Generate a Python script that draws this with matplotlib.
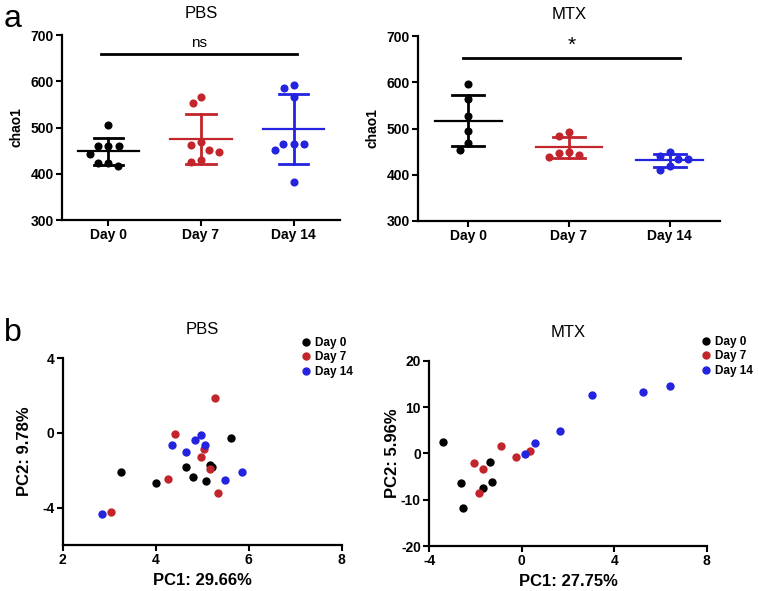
"""
chao1 alpha diversity (a) and PCA (b) for PBS and MTX groups
"""

import numpy as np
import matplotlib
matplotlib.use("Agg")
import matplotlib.pyplot as plt
from matplotlib.lines import Line2D

plt.rcParams['font.family'] = ['Liberation Sans', 'DejaVu Sans']
plt.rcParams['axes.unicode_minus'] = False

# ======================================================================
# DATA
# ======================================================================
days = ["Day 0", "Day 7", "Day 14"]

pbs_day0 = [506, 459, 459, 459, 443, 423, 423, 416]
pbs_day7 = [566, 552, 468, 462, 452, 448, 429, 425]
pbs_day14 = [592, 585, 565, 465, 465, 464, 451, 382]

mtx_day0 = [596, 563, 526, 495, 469, 454]
mtx_day7 = [493, 484, 450, 448, 443, 438]
mtx_day14 = [449, 441, 434, 433, 419, 410]

# PCA scores
pbs_pc1_day0 = [3.26, 4.01, 4.65, 4.80, 5.09, 5.16, 5.22, 5.62]
pbs_pc2_day0 = [-2.10, -2.70, -1.83, -2.35, -2.60, -1.74, -1.81, -0.30]
pbs_pc1_day7 = [5.27, 4.42, 5.04, 4.98, 5.17, 4.26, 5.33, 3.03]
pbs_pc2_day7 = [1.88, -0.04, -0.89, -1.30, -1.92, -2.49, -3.22, -4.23]
pbs_pc1_day14 = [4.35, 4.65, 4.85, 4.97, 5.06, 5.85, 5.48, 2.85]
pbs_pc2_day14 = [-0.66, -1.01, -0.41, -0.14, -0.66, -2.10, -2.51, -4.32]

mtx_pc1_day0 = [-3.39, -2.64, -2.53, -1.66, -1.37, -1.30]
mtx_pc2_day0 = [2.37, -6.33, -11.8, -7.41, -1.87, -6.19]
mtx_pc1_day7 = [-2.08, -1.66, -1.86, -0.91, -0.25, 0.36]
mtx_pc2_day7 = [-2.09, -3.45, -8.63, 1.58, -0.86, 0.58]
mtx_pc1_day14 = [0.14, 0.57, 1.66, 3.04, 5.25, 6.40]
mtx_pc2_day14 = [-0.22, 2.16, 4.75, 12.5, 13.2, 14.5]

colors = ["#000000", "#C2252B", "#2323E0"]
W, H = 758, 591


def style_axes(ax):
    for side in ["top", "right"]:
        ax.spines[side].set_visible(False)
    for side in ["left", "bottom"]:
        ax.spines[side].set_linewidth(1.6)
    ax.tick_params(direction="out", length=4, width=1.5, labelsize=10, pad=2)
    for lab in ax.get_xticklabels() + ax.get_yticklabels():
        lab.set_fontweight("bold")


def swarm_x(ax, xc, values, diam_px=10.5):
    # simple beeswarm in display space
    placed = []
    xs = []
    cands = sorted(np.arange(-60, 60.01, 0.5), key=abs)
    for v in values:
        px, py = ax.transData.transform((xc, v))
        for c in cands:
            if all((px + c - qx) ** 2 + (py - qy) ** 2 >= diam_px ** 2 for qx, qy in placed):
                break
        placed.append((px + c, py))
        xs.append(ax.transData.inverted().transform((px + c, py))[0])
    return xs


def dot_panel(ax, groups, title, sig, sig_size, sig_y, sig_x0, sig_x1):
    ax.set_xlim(-0.5, 2.5)
    ax.set_ylim(300, 700)
    ax.set_yticks([300, 400, 500, 600, 700])
    ax.set_xticks(range(len(days)))
    ax.set_xticklabels(days)
    style_axes(ax)
    for i, vals in enumerate(groups):
        vals = np.array(vals, dtype=float)
        m, sd = vals.mean(), vals.std(ddof=1)
        xs = swarm_x(ax, i, vals)
        ax.scatter(xs, vals, s=34, color=colors[i], zorder=3, linewidths=0)
        ax.plot([i - 0.33, i + 0.33], [m, m], color=colors[i], lw=1.6, zorder=2)
        ax.plot([i, i], [m - sd, m + sd], color=colors[i], lw=2.0, zorder=2)
        for e in (m - sd, m + sd):
            ax.plot([i - 0.16, i + 0.16], [e, e], color=colors[i], lw=2.0, zorder=2)
    ax.plot([sig_x0, sig_x1], [sig_y, sig_y], color="black", lw=2.0, clip_on=False)
    ax.text((sig_x0 + sig_x1) / 2, sig_y + 8, sig, ha="center", va="bottom", fontsize=sig_size)
    ax.set_ylabel("chao1", fontsize=10, fontweight="bold", labelpad=5)
    ax.set_title(title, fontsize=12, pad=12)


def pca_panel(ax, pts, title, xlab, xlim, ylim, xticks, yticks, leg_xy):
    ax.set_xlim(*xlim)
    ax.set_ylim(*ylim)
    ax.set_xticks(xticks)
    ax.set_yticks(yticks)
    style_axes(ax)
    for i, (xv, yv) in enumerate(pts):
        ax.scatter(xv, yv, s=36, color=colors[i], zorder=3, linewidths=0, clip_on=False)
    ax.set_xlabel(xlab, fontsize=12, fontweight="bold", labelpad=4)
    ax.set_title(title, fontsize=12, pad=17)
    handles = [Line2D([], [], marker="o", ls="", color=c, markersize=5) for c in colors]
    fig.legend(handles, days, loc="upper left", frameon=False,
               bbox_to_anchor=(leg_xy[0] / W, 1 - leg_xy[1] / H),
               prop={"size": 8.5, "weight": "bold"}, handlelength=0.8,
               handletextpad=0.4, labelspacing=0.2, borderaxespad=0, borderpad=0)


# ======================================================================
# FIGURE
# ======================================================================
fig = plt.figure(figsize=(W / 100, H / 100), dpi=100)

ax1 = fig.add_axes([62 / W, 1 - 220 / H, 278 / W, 185 / H])
ax2 = fig.add_axes([418 / W, 1 - 221 / H, 302 / W, 185 / H])
ax3 = fig.add_axes([62.7 / W, 1 - 545 / H, 279 / W, 187 / H])
ax4 = fig.add_axes([429.3 / W, 1 - 546 / H, 277.4 / W, 185.3 / H])

dot_panel(ax1, [pbs_day0, pbs_day7, pbs_day14], "PBS", "ns", 11, 659, -0.08, 2.04)
dot_panel(ax2, [mtx_day0, mtx_day7, mtx_day14], "MTX", "*", 15, 652, -0.05, 2.1)

pca_panel(ax3, [(pbs_pc1_day0, pbs_pc2_day0), (pbs_pc1_day7, pbs_pc2_day7),
                (pbs_pc1_day14, pbs_pc2_day14)],
          "PBS", "PC1: 29.66%", (2, 8), (-6, 4), [2, 4, 6, 8], [-4, 0, 4], (301, 337))
ax3.set_ylabel("PC2: 9.78%", fontsize=12, fontweight="bold", labelpad=7)

pca_panel(ax4, [(mtx_pc1_day0, mtx_pc2_day0), (mtx_pc1_day7, mtx_pc2_day7),
                (mtx_pc1_day14, mtx_pc2_day14)],
          "MTX", "PC1: 27.75%", (-4, 8), (-20, 20), [-4, 0, 4, 8],
          [-20, -10, 0, 10, 20], (701, 336))
ax4.set_ylabel("PC2: 5.96%", fontsize=12, fontweight="bold", labelpad=1)

fig.text(4 / W, 1 - 4 / H, "a", fontsize=23, va="top", ha="left")
fig.text(4 / W, 1 - 318 / H, "b", fontsize=23, va="top", ha="left")

fig.savefig("out.png", dpi=100)
